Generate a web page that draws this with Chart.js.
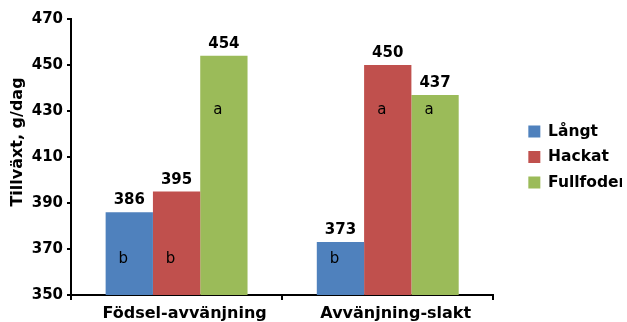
<!DOCTYPE html>
<html>
<head>
<meta charset="utf-8">
<script src="https://cdn.jsdelivr.net/npm/chart.js@4"></script>
<style>
  html, body { margin: 0; padding: 0; background: #fff; }
  canvas { display: block; }
</style>
</head>
<body>
<canvas id="chart" width="627" height="322"></canvas>
<script>
const categories = ['Födsel-avvänjning', 'Avvänjning-slakt'];
const seriesNames = ['Långt', 'Hackat', 'Fullfoder'];
const langt = [386, 373];
const hackat = [395, 450];
const fullfoder = [454, 437];
// significance letters written inside the bars
const langtLetters = ['b', 'b'];
const hackatLetters = ['b', 'a'];
const fullfoderLetters = ['a', 'a'];
const yMin = 350, yMax = 470, yStep = 20;
const yTitle = 'Tillväxt, g/dag';

const colors = ['#4F81BD', '#C0504D', '#9BBB59'];
const font = 'DejaVu Sans';
Chart.defaults.font.family = font;
Chart.defaults.color = '#000';

const series = [langt, hackat, fullfoder];
const letters = [langtLetters, hackatLetters, fullfoderLetters];

// numbers above the bars, letters inside them
const barLabels = {
  id: 'barLabels',
  afterDatasetsDraw(chart) {
    const ctx = chart.ctx;
    const y = chart.scales.y;
    ctx.save();
    ctx.fillStyle = '#000';
    ctx.textAlign = 'center';
    chart.data.datasets.forEach((ds, i) => {
      chart.getDatasetMeta(i).data.forEach((bar, j) => {
        ctx.font = 'bold 15px ' + font;
        ctx.textBaseline = 'alphabetic';
        ctx.fillText(ds.data[j], bar.x, bar.y - 8);
        const l = letters[i][j];
        ctx.font = '15px ' + font;
        ctx.textBaseline = 'middle';
        ctx.fillText(l, bar.x - 6, y.getPixelForValue(l === 'a' ? 430.5 : 365.5));
      });
    });
    ctx.restore();
  }
};

// y axis title, sits a bit above the middle like in the original
const yAxisTitle = {
  id: 'yAxisTitle',
  afterDraw(chart) {
    const {ctx, chartArea} = chart;
    ctx.save();
    ctx.translate(18, (chartArea.top + chartArea.bottom) / 2 - 15);
    ctx.rotate(-Math.PI / 2);
    ctx.font = 'bold 16px ' + font;
    ctx.fillStyle = '#000';
    ctx.textAlign = 'center';
    ctx.textBaseline = 'middle';
    ctx.fillText(yTitle, 0, 0);
    ctx.restore();
  }
};

new Chart('chart', {
  type: 'bar',
  data: {
    labels: categories,
    datasets: series.map((d, i) => ({
      label: seriesNames[i],
      data: d,
      backgroundColor: colors[i],
      borderWidth: 0,
      categoryPercentage: 0.672,
      barPercentage: 1
    }))
  },
  options: {
    responsive: false,
    animation: false,
    devicePixelRatio: 1,
    layout: { padding: { top: 19, right: 5, bottom: 0, left: 0 } },
    plugins: {
      legend: {
        position: 'right',
        fullSize: false,
        labels: {
          boxWidth: 12,
          boxHeight: 12,
          padding: 10,
          color: '#000',
          font: { size: 15.5, weight: 'bold' }
        }
      },
      tooltip: { enabled: false }
    },
    scales: {
      x: {
        grid: { drawOnChartArea: false, color: '#000', lineWidth: 2, tickLength: 5 },
        border: { color: '#000', width: 2 },
        ticks: { padding: 4, labelOffset: 8, font: { size: 16, weight: 'bold' }, color: '#000' },
        afterFit: s => { s.height = 27; }
      },
      y: {
        min: yMin,
        max: yMax,
        ticks: { stepSize: yStep, padding: 4, font: { size: 15, weight: 'bold' }, color: '#000' },
        grid: { drawOnChartArea: false, color: '#000', lineWidth: 2, tickLength: 4 },
        border: { color: '#000', width: 2 },
        afterFit: s => { s.width = 71; }
      },
      // empty spacer between the plot and the legend
      spacer: {
        type: 'linear',
        position: 'right',
        grid: { display: false },
        ticks: { display: false },
        border: { display: false },
        afterFit: s => { s.width = 25; }
      }
    }
  },
  plugins: [barLabels, yAxisTitle]
});
</script>
</body>
</html>
